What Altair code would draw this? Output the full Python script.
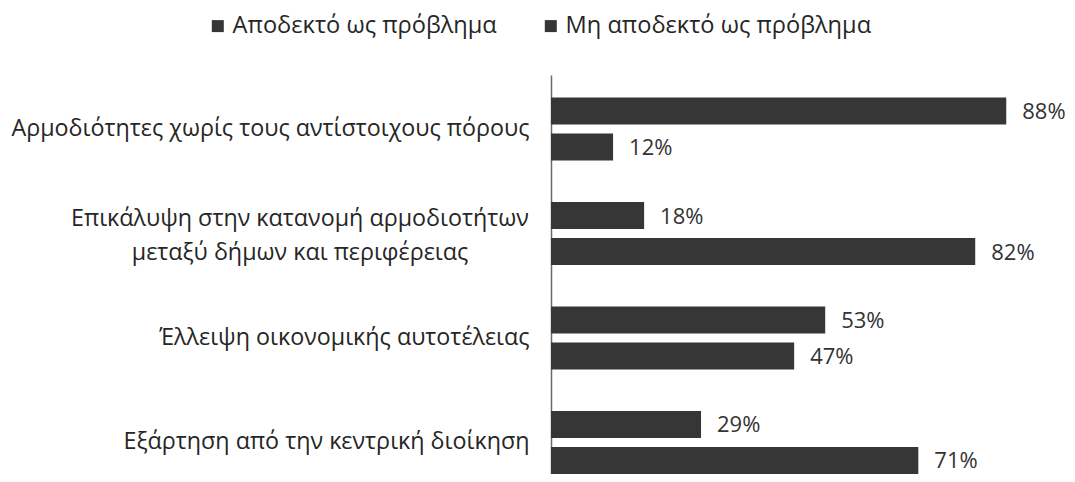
import altair as alt
import pandas as pd

categories = [
    "Αρμοδιότητες χωρίς τους αντίστοιχους πόρους",
    "Επικάλυψη στην κατανομή αρμοδιοτήτων|μεταξύ δήμων και περιφέρειας",
    "Έλλειψη οικονομικής αυτοτέλειας",
    "Εξάρτηση από την κεντρική διοίκηση",
]
series = ["Αποδεκτό ως πρόβλημα", "Μη αποδεκτό ως πρόβλημα"]
accepted = [88, 18, 53, 29]
not_accepted = [12, 82, 47, 71]

rows = []
for i, c in enumerate(categories):
    rows.append({"category": c, "series": series[0], "value": accepted[i]})
    rows.append({"category": c, "series": series[1], "value": not_accepted[i]})
df = pd.DataFrame(rows)
df["label"] = df["value"].astype(str) + "%"
cat_df = pd.DataFrame({"category": categories})

FONT = "Open Sans"
FS = 23.3
LFS = 23.6
VFS = 22
BAR = "#363636"
TXT = "#262626"

y_enc = alt.Y(
    "category:N", sort=categories, title=None,
    scale=alt.Scale(paddingInner=0.397, paddingOuter=0.1077, align=1),
    axis=alt.Axis(
        labelExpr="indexof(datum.label, '|') >= 0 ? '' : datum.label",
        ticks=False, domainColor="#6b6b6b", domainWidth=1.5,
        labelFont=FONT, labelFontSize=FS, labelColor=TXT,
        labelPadding=22, labelLimit=0, grid=False,
    ),
)
yoff = alt.YOffset("series:N", sort=series,
                   scale=alt.Scale(domain=series, paddingInner=0.25, paddingOuter=0))
x_enc = alt.X("value:Q", scale=alt.Scale(domain=[0, 98], nice=False), axis=None)

bars = alt.Chart(df).mark_bar(cornerRadius=0).encode(
    x=x_enc, y=y_enc, yOffset=yoff,
    color=alt.Color(
        "series:N", sort=series,
        scale=alt.Scale(domain=series, range=[BAR, BAR]),
        legend=alt.Legend(
            title=None, orient="none", legendX=-345, legendY=-61,
            direction="horizontal", symbolType="square", symbolSize=144,
            symbolStrokeWidth=0, labelFont=FONT, labelFontSize=LFS,
            labelColor=TXT, columnPadding=42, labelOffset=3, labelLimit=0,
        ),
    ),
)

values = alt.Chart(df).mark_text(
    align="left", baseline="middle", dx=16, dy=1, font=FONT, fontSize=VFS, color="#333333"
).encode(x=x_enc, y=y_enc, yOffset=yoff, text="label:N")

multi = alt.Chart(cat_df).transform_filter(
    "indexof(datum.category, '|') >= 0"
).mark_text(
    align="center", baseline="middle", lineBreak="|", lineHeight=34, dy=-15,
    font=FONT, fontSize=FS, color=TXT,
).encode(y=y_enc, x=alt.value(-251), text="category:N")

chart = alt.layer(bars, values, multi).properties(
    width=507, height=399,
    autosize=alt.AutoSizeParams(type="none"),
    padding={"left": 543, "top": 67, "right": 9, "bottom": 0},
    background="white",
).configure_view(strokeWidth=0)

chart.save("out.html", embed_options={"renderer": "svg", "actions": False})
